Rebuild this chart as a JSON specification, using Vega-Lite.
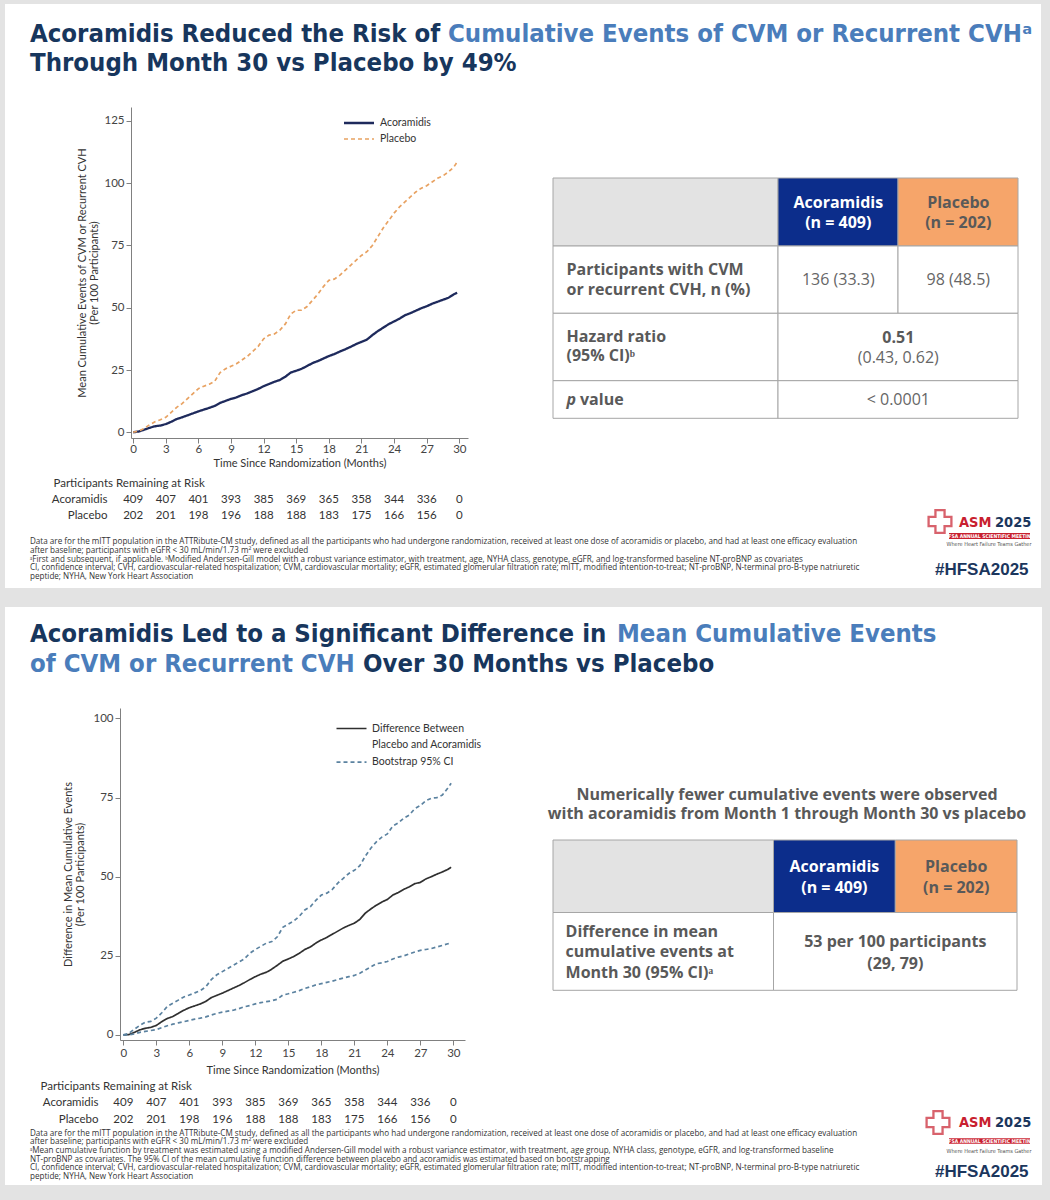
{
"$schema":"https://vega.github.io/schema/vega-lite/v6.json",
"padding":0,
"background":"#e3e3e3",
"spacing":0,
"bounds":"flush",
"config":{
 "view":{"stroke":null},
 "axis":{"labelFont":"Lato","titleFont":"Lato","labelFontSize":11.5,"titleFontSize":11,"titleFontWeight":"normal","labelColor":"#444444","titleColor":"#333333","domainColor":"#808080","tickColor":"#808080","tickSize":5,"grid":false}
},
"vconcat":[
 {"width":1050,"height":4,"data":{"values":[]},"mark":"point"},
 {"width":1050,"height":584,
  "view":{"fill":"#ffffff"},
  "data":{"values":[{"k":"slide"}]},
  "resolve":{"scale":{"x":"independent","y":"independent","color":"independent","strokeDash":"independent","strokeWidth":"independent","fill":"independent"}},
  "layer":[
   {"mark":{"type":"rect","fill":"#e3e3e3"},
    "encoding":{"x":{"datum":0,"type":"quantitative","scale":{"domain":[0,1050],"range":[0,1050],"nice":false,"zero":false},"axis":null},"x2":{"datum":5},
                "y":{"datum":0,"type":"quantitative","scale":{"domain":[0,584],"range":[0,584],"nice":false,"zero":false},"axis":null},"y2":{"datum":584}}},
   {"mark":{"type":"rect","fill":"#e3e3e3"},
    "encoding":{"x":{"datum":1041,"type":"quantitative","scale":{"domain":[0,1050],"range":[0,1050],"nice":false,"zero":false},"axis":null},"x2":{"datum":1050},
                "y":{"datum":0,"type":"quantitative","scale":{"domain":[0,584],"range":[0,584],"nice":false,"zero":false},"axis":null},"y2":{"datum":584}}},
   {"data":{"values":[
     {"line":1,"part":"lead","tone":"dark","t":"Acoramidis Reduced the Risk of"},
     {"line":1,"part":"tail","tone":"blue","t":"Cumulative Events of CVM or Recurrent CVHᵃ"},
     {"line":2,"part":"lead","tone":"dark","t":"Through Month 30 vs Placebo by 49%"}]},
    "mark":{"type":"text","align":"left","baseline":"middle","font":"DejaVu Sans Condensed","fontWeight":"bold","fontSize":25.5},
    "encoding":{
     "x":{"field":"part","type":"nominal","scale":{"type":"point","domain":["lead","tail"],"range":[30,448],"padding":0},"axis":null},
     "y":{"field":"line","type":"ordinal","scale":{"type":"point","domain":[1,2],"range":[30,59],"padding":0},"axis":null},
     "color":{"field":"tone","type":"nominal","scale":{"domain":["dark","blue"],"range":["#17365d","#4a7dbb"]},"legend":null},
     "text":{"field":"t"}}},
   {"data":{"values":[
{"m":0,"Acoramidis":0,"Placebo":0},{"m":0.5,"Acoramidis":0.3,"Placebo":0.5},{"m":1,"Acoramidis":1.0,"Placebo":1.5},{"m":1.5,"Acoramidis":1.8,"Placebo":3.0},{"m":2,"Acoramidis":2.4,"Placebo":4.2},{"m":2.5,"Acoramidis":2.7,"Placebo":5.0},{"m":3,"Acoramidis":3.3,"Placebo":6.0},{"m":3.5,"Acoramidis":4.2,"Placebo":8.0},{"m":4,"Acoramidis":5.3,"Placebo":10.0},{"m":4.5,"Acoramidis":6.0,"Placebo":11.5},{"m":5,"Acoramidis":6.8,"Placebo":13.5},{"m":5.5,"Acoramidis":7.6,"Placebo":15.5},{"m":6,"Acoramidis":8.4,"Placebo":17.5},{"m":6.5,"Acoramidis":9.1,"Placebo":18.5},{"m":7,"Acoramidis":9.8,"Placebo":19.3},{"m":7.5,"Acoramidis":10.6,"Placebo":20.5},{"m":8,"Acoramidis":11.8,"Placebo":24.0},{"m":8.5,"Acoramidis":12.6,"Placebo":25.5},{"m":9,"Acoramidis":13.4,"Placebo":26.5},{"m":9.5,"Acoramidis":14.0,"Placebo":27.5},{"m":10,"Acoramidis":14.9,"Placebo":29.0},{"m":10.5,"Acoramidis":15.6,"Placebo":30.5},{"m":11,"Acoramidis":16.5,"Placebo":32.5},{"m":11.5,"Acoramidis":17.4,"Placebo":34.5},{"m":12,"Acoramidis":18.5,"Placebo":37.5},{"m":12.5,"Acoramidis":19.4,"Placebo":39.0},{"m":13,"Acoramidis":20.3,"Placebo":39.5},{"m":13.5,"Acoramidis":21.0,"Placebo":41.0},{"m":14,"Acoramidis":22.3,"Placebo":43.5},{"m":14.5,"Acoramidis":24.0,"Placebo":47.5},{"m":15,"Acoramidis":24.7,"Placebo":49.0},{"m":15.5,"Acoramidis":25.5,"Placebo":49.0},{"m":16,"Acoramidis":26.6,"Placebo":50.5},{"m":16.5,"Acoramidis":27.8,"Placebo":53.0},{"m":17,"Acoramidis":28.6,"Placebo":55.5},{"m":17.5,"Acoramidis":29.6,"Placebo":58.5},{"m":18,"Acoramidis":30.6,"Placebo":61.0},{"m":18.5,"Acoramidis":31.4,"Placebo":61.5},{"m":19,"Acoramidis":32.4,"Placebo":63.0},{"m":19.5,"Acoramidis":33.3,"Placebo":65.0},{"m":20,"Acoramidis":34.3,"Placebo":67.0},{"m":20.5,"Acoramidis":35.4,"Placebo":69.0},{"m":21,"Acoramidis":36.3,"Placebo":71.0},{"m":21.5,"Acoramidis":37.2,"Placebo":72.5},{"m":22,"Acoramidis":39.0,"Placebo":75.0},{"m":22.5,"Acoramidis":40.6,"Placebo":78.5},{"m":23,"Acoramidis":42.0,"Placebo":82.0},{"m":23.5,"Acoramidis":43.4,"Placebo":85.0},{"m":24,"Acoramidis":44.5,"Placebo":88.0},{"m":24.5,"Acoramidis":45.6,"Placebo":90.5},{"m":25,"Acoramidis":47.0,"Placebo":92.5},{"m":25.5,"Acoramidis":47.8,"Placebo":94.5},{"m":26,"Acoramidis":48.8,"Placebo":96.5},{"m":26.5,"Acoramidis":49.8,"Placebo":98.0},{"m":27,"Acoramidis":50.6,"Placebo":99.0},{"m":27.5,"Acoramidis":51.6,"Placebo":100.5},{"m":28,"Acoramidis":52.4,"Placebo":102.0},{"m":28.5,"Acoramidis":53.2,"Placebo":103.0},{"m":29,"Acoramidis":54.0,"Placebo":104.5},{"m":29.5,"Acoramidis":55.4,"Placebo":106.5},{"m":29.8,"Acoramidis":56.0,"Placebo":108.5}]},
    "transform":[{"fold":["Acoramidis","Placebo"],"as":["arm","v"]}],
    "mark":{"type":"line"},
    "encoding":{
     "x":{"field":"m","type":"quantitative","scale":{"domain":[-0.2,30.8],"range":[131,468],"nice":false,"zero":false},"axis":{"zindex":1,"values":[0,3,6,9,12,15,18,21,24,27,30],"title":"Time Since Randomization (Months)","labelPadding":0,"titlePadding":3,"offset":-150}},
     "y":{"field":"v","type":"quantitative","scale":{"domain":[-2.3,130.6],"range":[434,103],"nice":false,"zero":false},"axis":{"zindex":1,"values":[0,25,50,75,100,125],"title":["Mean Cumulative Events of CVM or Recurrent CVH","(Per 100 Participants)"],"titlePadding":4,"titleLineHeight":12,"labelPadding":2,"offset":-131}},
     "strokeWidth":{"field":"arm","type":"nominal","scale":{"domain":["Acoramidis","Placebo"],"range":[2.3,1.7]},"legend":null},
     "color":{"field":"arm","type":"nominal","scale":{"domain":["Acoramidis","Placebo"],"range":["#1e2a5c","#e8a262"]},
       "legend":{"orient":"none","legendX":352.5,"legendY":112.5,"title":null,"symbolType":"M-3,0H3","symbolSize":100,"symbolStrokeWidth":1.8,"labelOffset":14.5,"rowPadding":4.5,"padding":0,"labelFont":"Lato","labelFontSize":10.5,"labelColor":"#333333"}},
     "strokeDash":{"field":"arm","type":"nominal","scale":{"domain":["Acoramidis","Placebo"],"range":[[1,0],[4,3]]},
       "legend":{"orient":"none","legendX":352.5,"legendY":112.5,"title":null,"symbolType":"M-3,0H3","symbolSize":100,"symbolStrokeWidth":1.8,"labelOffset":14.5,"rowPadding":4.5,"padding":0,"labelFont":"Lato","labelFontSize":10.5,"labelColor":"#333333"}}}},
   {"resolve":{"scale":{"x":"independent","y":"independent","color":"independent","fill":"independent"}},
    "layer":[
     {"data":{"values":[
       {"r0":0,"r1":1,"c0":0,"c1":1,"kind":"corner"},
       {"r0":0,"r1":1,"c0":1,"c1":2,"kind":"acoramidis"},
       {"r0":0,"r1":1,"c0":2,"c1":3,"kind":"placebo"},
       {"r0":1,"r1":2,"c0":0,"c1":1,"kind":"body"},
       {"r0":1,"r1":2,"c0":1,"c1":2,"kind":"body"},
       {"r0":1,"r1":2,"c0":2,"c1":3,"kind":"body"},
       {"r0":2,"r1":3,"c0":0,"c1":1,"kind":"body"},
       {"r0":2,"r1":3,"c0":1,"c1":3,"kind":"body"},
       {"r0":3,"r1":4,"c0":0,"c1":1,"kind":"body"},
       {"r0":3,"r1":4,"c0":1,"c1":3,"kind":"body"}]},
      "mark":{"type":"rect","stroke":"#a6a6a6","strokeWidth":1},
      "encoding":{
       "x":{"field":"c0","type":"quantitative","scale":{"domain":[0,1,2,3],"range":[553,778,898,1018],"nice":false,"zero":false},"axis":null},
       "x2":{"field":"c1"},
       "y":{"field":"r0","type":"quantitative","scale":{"domain":[0,1,2,3,4],"range":[174,242,309.3,376.7,414.3],"nice":false,"zero":false},"axis":null},
       "y2":{"field":"r1"},
       "fill":{"field":"kind","type":"nominal","scale":{"domain":["corner","acoramidis","placebo","body"],"range":["#e3e3e3","#0c2d8b","#f6a56a","#ffffff"]},"legend":null}}},
     {"data":{"values":[{"row":1,"t":"Participants with CVM\nor recurrent CVH, n (%)"},{"row":2,"t":"Hazard ratio\n(95% CI)ᵇ"}]},
      "mark":{"type":"text","align":"left","baseline":"middle","font":"Open Sans","fontSize":16,"fontWeight":"bold","color":"#595959","lineBreak":"\n","lineHeight":19.5},
      "encoding":{
       "x":{"datum":0,"type":"quantitative","scale":{"domain":[0,1],"range":[566.5,1000],"nice":false,"zero":false},"axis":null},
       "y":{"field":"row","type":"quantitative","scale":{"domain":[0,1,2,3],"range":[198.7,266,332.7,396],"nice":false,"zero":false},"axis":null},
       "text":{"field":"t"}}},
     {"data":{"values":[{"row":3,"t":"p"}]},
      "mark":{"type":"text","align":"left","baseline":"middle","font":"Open Sans","fontSize":16,"fontWeight":"bold","fontStyle":"italic","color":"#595959"},
      "encoding":{
       "x":{"datum":0,"type":"quantitative","scale":{"domain":[0,1],"range":[566.5,1000],"nice":false,"zero":false},"axis":null},
       "y":{"field":"row","type":"quantitative","scale":{"domain":[0,1,2,3],"range":[198.7,266,332.7,396],"nice":false,"zero":false},"axis":null},
       "text":{"field":"t"}}},
     {"data":{"values":[{"row":3,"t":"value"}]},
      "mark":{"type":"text","align":"left","baseline":"middle","font":"Open Sans","fontSize":16,"fontWeight":"bold","color":"#595959"},
      "encoding":{
       "x":{"datum":0,"type":"quantitative","scale":{"domain":[0,1],"range":[580,1000],"nice":false,"zero":false},"axis":null},
       "y":{"field":"row","type":"quantitative","scale":{"domain":[0,1,2,3],"range":[198.7,266,332.7,396],"nice":false,"zero":false},"axis":null},
       "text":{"field":"t"}}},
     {"data":{"values":[{"col":"acoramidis","row":0,"t":"Acoramidis\n(n = 409)"},{"col":"placebo","row":0,"t":"Placebo\n(n = 202)"}]},
      "mark":{"type":"text","align":"center","baseline":"middle","font":"Open Sans","fontSize":16,"fontWeight":"bold","lineBreak":"\n","lineHeight":20},
      "encoding":{
       "x":{"field":"col","type":"nominal","scale":{"type":"point","domain":["acoramidis","both","placebo"],"range":[838.3,958.3],"padding":0},"axis":null},
       "y":{"field":"row","type":"quantitative","scale":{"domain":[0,1,2,3],"range":[198.7,276,334.3,396],"nice":false,"zero":false},"axis":null},
       "color":{"field":"col","type":"nominal","scale":{"domain":["acoramidis","placebo"],"range":["#ffffff","#595959"]},"legend":null},
       "text":{"field":"t"}}},
     {"data":{"values":[{"col":"acoramidis","row":1,"t":"136 (33.3)"},{"col":"placebo","row":1,"t":"98 (48.5)"},{"col":"both","row":2,"t":"\n(0.43, 0.62)"},{"col":"both","row":3,"t":"< 0.0001"}]},
      "mark":{"type":"text","align":"center","baseline":"middle","font":"Open Sans","fontSize":16,"color":"#666666","lineBreak":"\n","lineHeight":19.4},
      "encoding":{
       "x":{"field":"col","type":"nominal","scale":{"type":"point","domain":["acoramidis","both","placebo"],"range":[838.3,958.3],"padding":0},"axis":null},
       "y":{"field":"row","type":"quantitative","scale":{"domain":[0,1,2,3],"range":[198.7,276,334.3,396],"nice":false,"zero":false},"axis":null},
       "text":{"field":"t"}}},
     {"data":{"values":[{"col":"both","row":2,"t":"0.51"}]},
      "mark":{"type":"text","align":"center","baseline":"middle","font":"Open Sans","fontSize":16,"fontWeight":"bold","color":"#595959"},
      "encoding":{
       "x":{"field":"col","type":"nominal","scale":{"type":"point","domain":["acoramidis","both","placebo"],"range":[838.3,958.3],"padding":0},"axis":null},
       "y":{"field":"row","type":"quantitative","scale":{"domain":[0,1,2,3],"range":[198.7,276,334.3,396],"nice":false,"zero":false},"axis":null},
       "text":{"field":"t"}}}
    ]},
   {"data":{"values":[
     {"m":0,"arm":"Acoramidis","n":409},{"m":3,"arm":"Acoramidis","n":407},{"m":6,"arm":"Acoramidis","n":401},{"m":9,"arm":"Acoramidis","n":393},{"m":12,"arm":"Acoramidis","n":385},{"m":15,"arm":"Acoramidis","n":369},{"m":18,"arm":"Acoramidis","n":365},{"m":21,"arm":"Acoramidis","n":358},{"m":24,"arm":"Acoramidis","n":344},{"m":27,"arm":"Acoramidis","n":336},{"m":30,"arm":"Acoramidis","n":0},
     {"m":0,"arm":"Placebo","n":202},{"m":3,"arm":"Placebo","n":201},{"m":6,"arm":"Placebo","n":198},{"m":9,"arm":"Placebo","n":196},{"m":12,"arm":"Placebo","n":188},{"m":15,"arm":"Placebo","n":188},{"m":18,"arm":"Placebo","n":183},{"m":21,"arm":"Placebo","n":175},{"m":24,"arm":"Placebo","n":166},{"m":27,"arm":"Placebo","n":156},{"m":30,"arm":"Placebo","n":0}]},
    "mark":{"type":"text","font":"Lato","fontSize":11.5,"color":"#333333","baseline":"middle"},
    "encoding":{
     "x":{"field":"m","type":"quantitative","scale":{"domain":[-0.2,30.8],"range":[131,468],"nice":false,"zero":false},"axis":null},
     "y":{"field":"arm","type":"nominal","scale":{"type":"band","domain":["Acoramidis","Placebo"],"range":[488,520],"paddingInner":0,"paddingOuter":0},
          "axis":{"zindex":1,"orient":"left","offset":-131,"title":"Participants Remaining at Risk","titleAngle":0,"titleAlign":"left","titleBaseline":"middle","titleX":-78,"titleY":479,"titleFontSize":11.5,"titleColor":"#333333","domain":false,"ticks":false,"labelPadding":24,"labelFontSize":11.5,"labelColor":"#333333"}},
     "text":{"field":"n","type":"quantitative"}}},
   {"data":{"values":[
     {"i":1,"t":"Data are for the mITT population in the ATTRibute-CM study, defined as all the participants who had undergone randomization, received at least one dose of acoramidis or placebo, and had at least one efficacy evaluation"},
     {"i":2,"t":"after baseline; participants with eGFR < 30 mL/min/1.73 m² were excluded"},
     {"i":3,"t":"ᵃFirst and subsequent, if applicable. ᵇModified Andersen-Gill model with a robust variance estimator, with treatment, age, NYHA class, genotype, eGFR, and log-transformed baseline NT-proBNP as covariates"},
     {"i":4,"t":"CI, confidence interval; CVH, cardiovascular-related hospitalization; CVM, cardiovascular mortality; eGFR, estimated glomerular filtration rate; mITT, modified intention-to-treat; NT-proBNP, N-terminal pro-B-type natriuretic"},
     {"i":5,"t":"peptide; NYHA, New York Heart Association"}]},
    "mark":{"type":"text","align":"left","baseline":"middle","font":"Open Sans","fontSize":8.1,"color":"#333333"},
    "encoding":{
     "x":{"datum":0,"type":"quantitative","scale":{"domain":[0,1],"range":[30,1000],"nice":false,"zero":false},"axis":null},
     "y":{"field":"i","type":"ordinal","scale":{"type":"point","domain":[1,2,3,4,5],"range":[538,573],"padding":0},"axis":null},
     "text":{"field":"t"}}},
   {"mark":{"type":"point","shape":"cross","filled":false,"stroke":"#c8202f","strokeWidth":2.3,"size":520},
    "encoding":{"x":{"datum":940,"type":"quantitative","scale":{"domain":[0,1050],"range":[0,1050],"nice":false,"zero":false},"axis":null},"y":{"datum":517.5,"type":"quantitative","scale":{"domain":[0,584],"range":[0,584],"nice":false,"zero":false},"axis":null}}},
   {"mark":{"type":"text","text":"ASM","align":"left","baseline":"middle","font":"DejaVu Sans Condensed","fontWeight":"bold","fontSize":14.5,"fill":"#c8202f"},
    "encoding":{"x":{"datum":959,"type":"quantitative","scale":{"domain":[0,1050],"range":[0,1050],"nice":false,"zero":false},"axis":null},"y":{"datum":518.7,"type":"quantitative","scale":{"domain":[0,584],"range":[0,584],"nice":false,"zero":false},"axis":null}}},
   {"mark":{"type":"text","text":"2025","align":"left","baseline":"middle","font":"DejaVu Sans Condensed","fontWeight":"bold","fontSize":14.5,"fill":"#1b365d"},
    "encoding":{"x":{"datum":995,"type":"quantitative","scale":{"domain":[0,1050],"range":[0,1050],"nice":false,"zero":false},"axis":null},"y":{"datum":518.7,"type":"quantitative","scale":{"domain":[0,584],"range":[0,584],"nice":false,"zero":false},"axis":null}}},
   {"mark":{"type":"rect","fill":"#c8202f"},
    "encoding":{"x":{"datum":949,"type":"quantitative","scale":{"domain":[0,1050],"range":[0,1050],"nice":false,"zero":false},"axis":null},"x2":{"datum":1030},"y":{"datum":529,"type":"quantitative","scale":{"domain":[0,584],"range":[0,584],"nice":false,"zero":false},"axis":null},"y2":{"datum":535}}},
   {"mark":{"type":"text","text":"HFSA ANNUAL SCIENTIFIC MEETING","align":"center","baseline":"middle","font":"DejaVu Sans Condensed","fontWeight":"bold","fontSize":5,"fill":"#ffffff"},
    "encoding":{"x":{"datum":989.5,"type":"quantitative","scale":{"domain":[0,1050],"range":[0,1050],"nice":false,"zero":false},"axis":null},"y":{"datum":532,"type":"quantitative","scale":{"domain":[0,584],"range":[0,584],"nice":false,"zero":false},"axis":null}}},
   {"mark":{"type":"text","text":"Where Heart Failure Teams Gather","align":"center","baseline":"middle","font":"DejaVu Sans Condensed","fontSize":5.5,"fill":"#555555"},
    "encoding":{"x":{"datum":989,"type":"quantitative","scale":{"domain":[0,1050],"range":[0,1050],"nice":false,"zero":false},"axis":null},"y":{"datum":540.3,"type":"quantitative","scale":{"domain":[0,584],"range":[0,584],"nice":false,"zero":false},"axis":null}}},
   {"mark":{"type":"text","text":"#HFSA2025","align":"left","baseline":"middle","font":"Liberation Sans","fontWeight":"bold","fontSize":17,"fill":"#1b365d"},
    "encoding":{"x":{"datum":935,"type":"quantitative","scale":{"domain":[0,1050],"range":[0,1050],"nice":false,"zero":false},"axis":null},"y":{"datum":566,"type":"quantitative","scale":{"domain":[0,584],"range":[0,584],"nice":false,"zero":false},"axis":null}}}
  ]},
 {"width":1050,"height":19,"data":{"values":[]},"mark":"point"},
 {"width":1050,"height":578,
  "view":{"fill":"#ffffff"},
  "data":{"values":[{"k":"slide"}]},
  "resolve":{"scale":{"x":"independent","y":"independent","color":"independent","strokeDash":"independent","fill":"independent"}},
  "layer":[
   {"mark":{"type":"rect","fill":"#e3e3e3"},
    "encoding":{"x":{"datum":0,"type":"quantitative","scale":{"domain":[0,1050],"range":[0,1050],"nice":false,"zero":false},"axis":null},"x2":{"datum":5},
                "y":{"datum":0,"type":"quantitative","scale":{"domain":[0,578],"range":[0,578],"nice":false,"zero":false},"axis":null},"y2":{"datum":578}}},
   {"mark":{"type":"rect","fill":"#e3e3e3"},
    "encoding":{"x":{"datum":1042,"type":"quantitative","scale":{"domain":[0,1050],"range":[0,1050],"nice":false,"zero":false},"axis":null},"x2":{"datum":1050},
                "y":{"datum":0,"type":"quantitative","scale":{"domain":[0,578],"range":[0,578],"nice":false,"zero":false},"axis":null},"y2":{"datum":578}}},
   {"data":{"values":[{"line":1,"part":"lead","tone":"dark","t":"Acoramidis Led to a Significant Difference in"},{"line":1,"part":"tail","tone":"blue","t":"Mean Cumulative Events"}]},
    "mark":{"type":"text","align":"left","baseline":"middle","font":"DejaVu Sans Condensed","fontWeight":"bold","fontSize":25.5},
    "encoding":{
     "x":{"field":"part","type":"nominal","scale":{"type":"point","domain":["lead","tail"],"range":[30,617],"padding":0},"axis":null},
     "y":{"field":"line","type":"ordinal","scale":{"type":"point","domain":[1,2],"range":[27,57],"padding":0},"axis":null},
     "color":{"field":"tone","type":"nominal","scale":{"domain":["dark","blue"],"range":["#17365d","#4a7dbb"]},"legend":null},
     "text":{"field":"t"}}},
   {"data":{"values":[{"line":2,"part":"lead","tone":"blue","t":"of CVM or Recurrent CVH"},{"line":2,"part":"tail","tone":"dark","t":"Over 30 Months vs Placebo"}]},
    "mark":{"type":"text","align":"left","baseline":"middle","font":"DejaVu Sans Condensed","fontWeight":"bold","fontSize":25.5},
    "encoding":{
     "x":{"field":"part","type":"nominal","scale":{"type":"point","domain":["lead","tail"],"range":[30,363],"padding":0},"axis":null},
     "y":{"field":"line","type":"ordinal","scale":{"type":"point","domain":[1,2],"range":[27,57],"padding":0},"axis":null},
     "color":{"field":"tone","type":"nominal","scale":{"domain":["dark","blue"],"range":["#17365d","#4a7dbb"]},"legend":null},
     "text":{"field":"t"}}},
   {"data":{"values":[
{"m":0,"diff":0,"upper":0,"lower":0},{"m":0.5,"diff":0.1,"upper":0.5,"lower":0},{"m":1,"diff":0.8,"upper":1.8,"lower":0.3},{"m":1.5,"diff":1.6,"upper":3.0,"lower":0.8},{"m":2,"diff":2.1,"upper":4.0,"lower":1.1},{"m":2.5,"diff":2.4,"upper":4.3,"lower":1.4},{"m":3,"diff":3.0,"upper":5.3,"lower":1.7},{"m":3.5,"diff":4.2,"upper":7.0,"lower":2.3},{"m":4,"diff":5.2,"upper":9.0,"lower":2.9},{"m":4.5,"diff":5.8,"upper":10.0,"lower":3.4},{"m":5,"diff":6.8,"upper":11.0,"lower":3.8},{"m":5.5,"diff":7.8,"upper":12.0,"lower":4.2},{"m":6,"diff":8.6,"upper":12.6,"lower":4.6},{"m":6.5,"diff":9.2,"upper":13.3,"lower":5.0},{"m":7,"diff":9.8,"upper":14.0,"lower":5.3},{"m":7.5,"diff":10.6,"upper":15.2,"lower":5.7},{"m":8,"diff":11.8,"upper":17.5,"lower":6.3},{"m":8.5,"diff":12.5,"upper":19.0,"lower":6.8},{"m":9,"diff":13.2,"upper":20.0,"lower":7.2},{"m":9.5,"diff":14.0,"upper":21.0,"lower":7.5},{"m":10,"diff":14.8,"upper":22.0,"lower":7.8},{"m":10.5,"diff":15.6,"upper":23.0,"lower":8.3},{"m":11,"diff":16.5,"upper":24.0,"lower":8.9},{"m":11.5,"diff":17.5,"upper":25.8,"lower":9.3},{"m":12,"diff":18.4,"upper":27.0,"lower":9.8},{"m":12.5,"diff":19.2,"upper":28.0,"lower":10.2},{"m":13,"diff":19.8,"upper":29.0,"lower":10.5},{"m":13.5,"diff":20.8,"upper":29.5,"lower":10.8},{"m":14,"diff":22.0,"upper":31.0,"lower":11.3},{"m":14.5,"diff":23.3,"upper":34.0,"lower":12.6},{"m":15,"diff":24.0,"upper":35.0,"lower":13.0},{"m":15.5,"diff":24.8,"upper":36.0,"lower":13.5},{"m":16,"diff":25.8,"upper":37.5,"lower":14.0},{"m":16.5,"diff":27.0,"upper":39.5,"lower":14.7},{"m":17,"diff":27.8,"upper":40.5,"lower":15.2},{"m":17.5,"diff":29.0,"upper":42.5,"lower":15.8},{"m":18,"diff":30.0,"upper":44.2,"lower":16.2},{"m":18.5,"diff":30.8,"upper":44.8,"lower":16.6},{"m":19,"diff":31.8,"upper":46.0,"lower":17.0},{"m":19.5,"diff":32.8,"upper":48.0,"lower":17.5},{"m":20,"diff":33.8,"upper":49.5,"lower":18.0},{"m":20.5,"diff":34.6,"upper":51.0,"lower":18.4},{"m":21,"diff":35.3,"upper":52.0,"lower":18.8},{"m":21.5,"diff":36.5,"upper":53.5,"lower":19.5},{"m":22,"diff":38.5,"upper":56.5,"lower":20.5},{"m":22.5,"diff":39.8,"upper":59.0,"lower":21.5},{"m":23,"diff":41.0,"upper":61.0,"lower":22.5},{"m":23.5,"diff":42.0,"upper":62.5,"lower":22.8},{"m":24,"diff":42.8,"upper":63.5,"lower":23.2},{"m":24.5,"diff":44.2,"upper":66.0,"lower":24.0},{"m":25,"diff":45.0,"upper":67.0,"lower":24.6},{"m":25.5,"diff":46.0,"upper":68.5,"lower":25.0},{"m":26,"diff":46.8,"upper":69.5,"lower":25.6},{"m":26.5,"diff":47.8,"upper":71.5,"lower":26.2},{"m":27,"diff":48.2,"upper":72.5,"lower":26.7},{"m":27.5,"diff":49.3,"upper":74.0,"lower":27.0},{"m":28,"diff":50.0,"upper":74.8,"lower":27.3},{"m":28.5,"diff":50.8,"upper":75.0,"lower":27.8},{"m":29,"diff":51.5,"upper":75.8,"lower":28.3},{"m":29.5,"diff":52.3,"upper":78.0,"lower":28.8},{"m":29.8,"diff":53.0,"upper":79.5,"lower":29.0}]},
    "transform":[{"fold":["diff","upper","lower"],"as":["b","v"]}],
    "mark":{"type":"line","strokeWidth":1.7},
    "encoding":{
     "x":{"field":"m","type":"quantitative","scale":{"domain":[-0.3,31.06],"range":[120,465],"nice":false,"zero":false},"axis":{"zindex":1,"values":[0,3,6,9,12,15,18,21,24,27,30],"title":"Time Since Randomization (Months)","labelPadding":2,"titlePadding":6,"offset":-145}},
     "y":{"field":"v","type":"quantitative","scale":{"domain":[-1.6,103.3],"range":[433,101],"nice":false,"zero":false},"axis":{"zindex":1,"values":[0,25,50,75,100],"title":["Difference in Mean Cumulative Events","(Per 100 Participants)"],"titlePadding":7,"titleLineHeight":12,"labelPadding":2,"offset":-120}},
     "detail":{"field":"b","type":"nominal"},
     "color":{"field":"b","type":"nominal","scale":{"domain":["diff","gap","upper","lower"],"range":["#2f2f2f","rgba(0,0,0,0)","#5b82a0","#5b82a0"]},
       "legend":{"orient":"none","legendX":345.5,"legendY":115.5,"title":null,"values":["diff","gap","upper"],"symbolType":"M-3,0H3","symbolSize":100,"symbolStrokeWidth":1.6,"labelOffset":14.5,"rowPadding":4.8,"padding":0,"labelFont":"Lato","labelFontSize":10.5,"labelColor":"#333333","labelExpr":"datum.value == 'diff' ? 'Difference Between' : datum.value == 'gap' ? 'Placebo and Acoramidis' : 'Bootstrap 95% CI'"}},
     "strokeDash":{"field":"b","type":"nominal","scale":{"domain":["diff","gap","upper","lower"],"range":[[1,0],[1,0],[4,3],[4,3]]},
       "legend":{"orient":"none","legendX":345.5,"legendY":115.5,"title":null,"values":["diff","gap","upper"],"symbolType":"M-3,0H3","symbolSize":100,"symbolStrokeWidth":1.6,"labelOffset":14.5,"rowPadding":4.8,"padding":0,"labelFont":"Lato","labelFontSize":10.5,"labelColor":"#333333","labelExpr":"datum.value == 'diff' ? 'Difference Between' : datum.value == 'gap' ? 'Placebo and Acoramidis' : 'Bootstrap 95% CI'"}}}},
   {"resolve":{"scale":{"x":"independent","y":"independent","color":"independent","fill":"independent"}},
    "layer":[
     {"data":{"values":[
       {"r0":0,"r1":1,"c0":0,"c1":1,"kind":"corner"},
       {"r0":0,"r1":1,"c0":1,"c1":2,"kind":"acoramidis"},
       {"r0":0,"r1":1,"c0":2,"c1":3,"kind":"placebo"},
       {"r0":1,"r1":2,"c0":0,"c1":1,"kind":"body"},
       {"r0":1,"r1":2,"c0":1,"c1":3,"kind":"body"}]},
      "mark":{"type":"rect","stroke":"#a6a6a6","strokeWidth":1},
      "encoding":{
       "x":{"field":"c0","type":"quantitative","scale":{"domain":[0,1,2,3],"range":[553,773.5,895.3,1017],"nice":false,"zero":false},"axis":null},
       "x2":{"field":"c1"},
       "y":{"field":"r0","type":"quantitative","scale":{"domain":[0,1,2],"range":[233,305.5,383.3],"nice":false,"zero":false},"axis":null},
       "y2":{"field":"r1"},
       "fill":{"field":"kind","type":"nominal","scale":{"domain":["corner","acoramidis","placebo","body"],"range":["#e3e3e3","#0c2d8b","#f6a56a","#ffffff"]},"legend":null}}},
     {"data":{"values":[{"t":"Numerically fewer cumulative events were observed\nwith acoramidis from Month 1 through Month 30 vs placebo"}]},
      "mark":{"type":"text","align":"center","baseline":"middle","font":"Open Sans","fontSize":16,"fontWeight":"bold","color":"#595959","lineBreak":"\n","lineHeight":19.3},
      "encoding":{
       "x":{"datum":787,"type":"quantitative","scale":{"domain":[0,1050],"range":[0,1050],"nice":false,"zero":false},"axis":null},
       "y":{"datum":188.2,"type":"quantitative","scale":{"domain":[0,578],"range":[0,578],"nice":false,"zero":false},"axis":null},
       "text":{"field":"t"}}},
     {"data":{"values":[{"row":1,"t":"Difference in mean\ncumulative events at\nMonth 30 (95% CI)ᵃ"}]},
      "mark":{"type":"text","align":"left","baseline":"middle","font":"Open Sans","fontSize":16,"fontWeight":"bold","color":"#595959","lineBreak":"\n","lineHeight":20.6},
      "encoding":{
       "x":{"datum":0,"type":"quantitative","scale":{"domain":[0,1],"range":[565.6,1000],"nice":false,"zero":false},"axis":null},
       "y":{"field":"row","type":"quantitative","scale":{"domain":[0,1],"range":[260.2,324.5],"nice":false,"zero":false},"axis":null},
       "text":{"field":"t"}}},
     {"data":{"values":[{"col":"acoramidis","row":0,"t":"Acoramidis\n(n = 409)"},{"col":"placebo","row":0,"t":"Placebo\n(n = 202)"}]},
      "mark":{"type":"text","align":"center","baseline":"middle","font":"Open Sans","fontSize":16,"fontWeight":"bold","lineBreak":"\n","lineHeight":21},
      "encoding":{
       "x":{"field":"col","type":"nominal","scale":{"type":"point","domain":["acoramidis","both","placebo"],"range":[834.4,956.2],"padding":0},"axis":null},
       "y":{"field":"row","type":"quantitative","scale":{"domain":[0,1],"range":[260.2,335.3],"nice":false,"zero":false},"axis":null},
       "color":{"field":"col","type":"nominal","scale":{"domain":["acoramidis","placebo"],"range":["#ffffff","#595959"]},"legend":null},
       "text":{"field":"t"}}},
     {"data":{"values":[{"col":"both","row":1,"t":"53 per 100 participants\n(29, 79)"}]},
      "mark":{"type":"text","align":"center","baseline":"middle","font":"Open Sans","fontSize":16,"fontWeight":"bold","color":"#595959","lineBreak":"\n","lineHeight":22},
      "encoding":{
       "x":{"field":"col","type":"nominal","scale":{"type":"point","domain":["acoramidis","both","placebo"],"range":[834.4,956.2],"padding":0},"axis":null},
       "y":{"field":"row","type":"quantitative","scale":{"domain":[0,1],"range":[260.2,335.3],"nice":false,"zero":false},"axis":null},
       "text":{"field":"t"}}}
    ]},
   {"data":{"values":[
     {"m":0,"arm":"Acoramidis","n":409},{"m":3,"arm":"Acoramidis","n":407},{"m":6,"arm":"Acoramidis","n":401},{"m":9,"arm":"Acoramidis","n":393},{"m":12,"arm":"Acoramidis","n":385},{"m":15,"arm":"Acoramidis","n":369},{"m":18,"arm":"Acoramidis","n":365},{"m":21,"arm":"Acoramidis","n":358},{"m":24,"arm":"Acoramidis","n":344},{"m":27,"arm":"Acoramidis","n":336},{"m":30,"arm":"Acoramidis","n":0},
     {"m":0,"arm":"Placebo","n":202},{"m":3,"arm":"Placebo","n":201},{"m":6,"arm":"Placebo","n":198},{"m":9,"arm":"Placebo","n":196},{"m":12,"arm":"Placebo","n":188},{"m":15,"arm":"Placebo","n":188},{"m":18,"arm":"Placebo","n":183},{"m":21,"arm":"Placebo","n":175},{"m":24,"arm":"Placebo","n":166},{"m":27,"arm":"Placebo","n":156},{"m":30,"arm":"Placebo","n":0}]},
    "mark":{"type":"text","font":"Lato","fontSize":11.5,"color":"#333333","baseline":"middle"},
    "encoding":{
     "x":{"field":"m","type":"quantitative","scale":{"domain":[-0.3,31.06],"range":[120,465],"nice":false,"zero":false},"axis":null},
     "y":{"field":"arm","type":"nominal","scale":{"type":"band","domain":["Acoramidis","Placebo"],"range":[487,521],"paddingInner":0,"paddingOuter":0},
          "axis":{"zindex":1,"orient":"left","offset":-120,"title":"Participants Remaining at Risk","titleAngle":0,"titleAlign":"left","titleBaseline":"middle","titleX":-80,"titleY":479,"titleFontSize":11.5,"titleColor":"#333333","domain":false,"ticks":false,"labelPadding":22,"labelFontSize":11.5,"labelColor":"#333333"}},
     "text":{"field":"n","type":"quantitative"}}},
   {"data":{"values":[
     {"i":1,"t":"Data are for the mITT population in the ATTRibute-CM study, defined as all the participants who had undergone randomization, received at least one dose of acoramidis or placebo, and had at least one efficacy evaluation"},
     {"i":2,"t":"after baseline; participants with eGFR < 30 mL/min/1.73 m² were excluded"},
     {"i":3,"t":"ᵃMean cumulative function by treatment was estimated using a modified Andersen-Gill model with a robust variance estimator, with treatment, age group, NYHA class, genotype, eGFR, and log-transformed baseline"},
     {"i":4,"t":"NT-proBNP as covariates. The 95% CI of the mean cumulative function difference between placebo and acoramidis was estimated based on bootstrapping"},
     {"i":5,"t":"CI, confidence interval; CVH, cardiovascular-related hospitalization; CVM, cardiovascular mortality; eGFR, estimated glomerular filtration rate; mITT, modified intention-to-treat; NT-proBNP, N-terminal pro-B-type natriuretic"},
     {"i":6,"t":"peptide; NYHA, New York Heart Association"}]},
    "mark":{"type":"text","align":"left","baseline":"middle","font":"Open Sans","fontSize":8.1,"color":"#333333"},
    "encoding":{
     "x":{"datum":0,"type":"quantitative","scale":{"domain":[0,1],"range":[30,1000],"nice":false,"zero":false},"axis":null},
     "y":{"field":"i","type":"ordinal","scale":{"type":"point","domain":[1,2,3,4,5,6],"range":[526.5,570],"padding":0},"axis":null},
     "text":{"field":"t"}}},
   {"mark":{"type":"point","shape":"cross","filled":false,"stroke":"#c8202f","strokeWidth":2.3,"size":520},
    "encoding":{"x":{"datum":938,"type":"quantitative","scale":{"domain":[0,1050],"range":[0,1050],"nice":false,"zero":false},"axis":null},"y":{"datum":515.5,"type":"quantitative","scale":{"domain":[0,578],"range":[0,578],"nice":false,"zero":false},"axis":null}}},
   {"mark":{"type":"text","text":"ASM","align":"left","baseline":"middle","font":"DejaVu Sans Condensed","fontWeight":"bold","fontSize":14.5,"fill":"#c8202f"},
    "encoding":{"x":{"datum":959,"type":"quantitative","scale":{"domain":[0,1050],"range":[0,1050],"nice":false,"zero":false},"axis":null},"y":{"datum":516.3,"type":"quantitative","scale":{"domain":[0,578],"range":[0,578],"nice":false,"zero":false},"axis":null}}},
   {"mark":{"type":"text","text":"2025","align":"left","baseline":"middle","font":"DejaVu Sans Condensed","fontWeight":"bold","fontSize":14.5,"fill":"#1b365d"},
    "encoding":{"x":{"datum":995,"type":"quantitative","scale":{"domain":[0,1050],"range":[0,1050],"nice":false,"zero":false},"axis":null},"y":{"datum":516.3,"type":"quantitative","scale":{"domain":[0,578],"range":[0,578],"nice":false,"zero":false},"axis":null}}},
   {"mark":{"type":"rect","fill":"#c8202f"},
    "encoding":{"x":{"datum":949,"type":"quantitative","scale":{"domain":[0,1050],"range":[0,1050],"nice":false,"zero":false},"axis":null},"x2":{"datum":1030},"y":{"datum":531.3,"type":"quantitative","scale":{"domain":[0,578],"range":[0,578],"nice":false,"zero":false},"axis":null},"y2":{"datum":536.8}}},
   {"mark":{"type":"text","text":"HFSA ANNUAL SCIENTIFIC MEETING","align":"center","baseline":"middle","font":"DejaVu Sans Condensed","fontWeight":"bold","fontSize":5,"fill":"#ffffff"},
    "encoding":{"x":{"datum":989.5,"type":"quantitative","scale":{"domain":[0,1050],"range":[0,1050],"nice":false,"zero":false},"axis":null},"y":{"datum":534,"type":"quantitative","scale":{"domain":[0,578],"range":[0,578],"nice":false,"zero":false},"axis":null}}},
   {"mark":{"type":"text","text":"Where Heart Failure Teams Gather","align":"center","baseline":"middle","font":"DejaVu Sans Condensed","fontSize":5.5,"fill":"#555555"},
    "encoding":{"x":{"datum":989,"type":"quantitative","scale":{"domain":[0,1050],"range":[0,1050],"nice":false,"zero":false},"axis":null},"y":{"datum":543.7,"type":"quantitative","scale":{"domain":[0,578],"range":[0,578],"nice":false,"zero":false},"axis":null}}},
   {"mark":{"type":"text","text":"#HFSA2025","align":"left","baseline":"middle","font":"Liberation Sans","fontWeight":"bold","fontSize":17,"fill":"#1b365d"},
    "encoding":{"x":{"datum":935,"type":"quantitative","scale":{"domain":[0,1050],"range":[0,1050],"nice":false,"zero":false},"axis":null},"y":{"datum":564.7,"type":"quantitative","scale":{"domain":[0,578],"range":[0,578],"nice":false,"zero":false},"axis":null}}}
  ]},
 {"width":1050,"height":15,"data":{"values":[]},"mark":"point"}
]
}
